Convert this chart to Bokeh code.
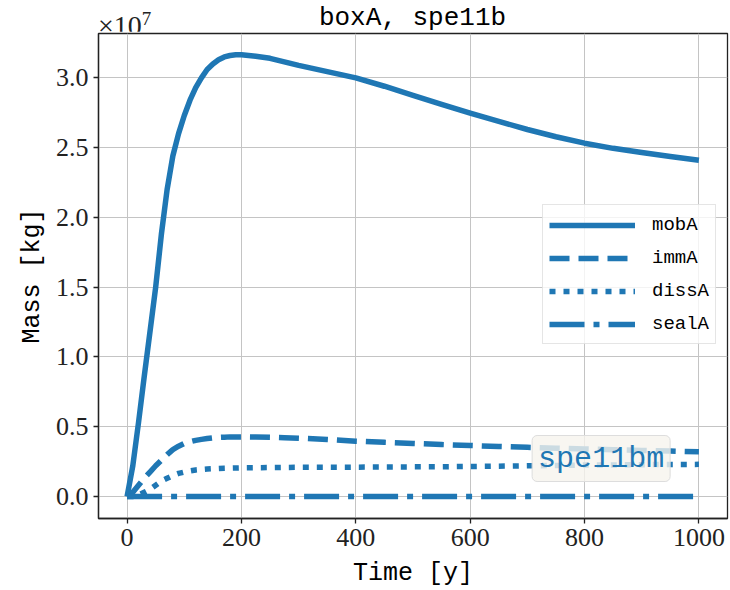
from bokeh.plotting import figure
from bokeh.layouts import column
from bokeh.models import (Legend, LegendItem, Label, Range1d, FixedTicker,
                          NumeralTickFormatter, Div)
from bokeh.embed import file_html
from bokeh.resources import INLINE

# Time [y]
time_y = [0, 10, 20, 30, 40, 50, 60, 70, 80, 90, 100, 110, 120, 130, 140, 150, 160, 170,
          180, 190, 200, 225, 250, 275, 300, 350, 400, 450, 500, 550, 600, 650, 700, 750,
          800, 850, 900, 950, 1000]
# Masses in units of 1e7 kg
mobA = [0.0, 0.22, 0.53, 0.86, 1.18, 1.5, 1.88, 2.2, 2.44, 2.6, 2.73, 2.84, 2.93, 3.0, 3.06,
        3.1, 3.13, 3.15, 3.16, 3.165, 3.165, 3.155, 3.14, 3.115, 3.09, 3.045, 3.0, 2.94,
        2.875, 2.81, 2.747, 2.688, 2.63, 2.578, 2.532, 2.495, 2.465, 2.437, 2.41]
immA = [0.0, 0.03, 0.08, 0.13, 0.175, 0.22, 0.26, 0.3, 0.336, 0.36, 0.38, 0.392, 0.402,
        0.409, 0.415, 0.42, 0.423, 0.425, 0.427, 0.427, 0.427, 0.426, 0.424, 0.421, 0.418,
        0.408, 0.396, 0.388, 0.38, 0.372, 0.365, 0.358, 0.352, 0.346, 0.34, 0.335, 0.33,
        0.325, 0.32]
dissA = [0.0, 0.0, 0.01, 0.03, 0.05, 0.08, 0.11, 0.13, 0.15, 0.165, 0.175, 0.183, 0.19,
         0.194, 0.197, 0.199, 0.2, 0.202, 0.203, 0.204, 0.205, 0.206, 0.207, 0.208, 0.209,
         0.21, 0.21, 0.211, 0.212, 0.213, 0.215, 0.217, 0.22, 0.222, 0.225, 0.226, 0.228,
         0.229, 0.23]
sealA = [0.0] * len(time_y)

x_ticks = [0, 200, 400, 600, 800, 1000]
y_ticks = [0.0, 0.5, 1.0, 1.5, 2.0, 2.5, 3.0]

BLUE = "#1f77b4"
MONO = "Liberation Mono"
SERIF = "Liberation Serif"

p = figure(width=730, height=559, output_backend="svg", toolbar_location=None,
           x_range=Range1d(-50, 1050), y_range=Range1d(-0.158, 3.318),
           min_border_left=98, min_border_right=3, min_border_top=2, min_border_bottom=71)
p.margin = 0

lw = 5.5
common = dict(line_color=BLUE, line_width=lw, line_join="round")
r_mob = p.line(time_y, mobA, **common)
r_imm = p.line(time_y, immA, line_dash="20 9", **common)
r_diss = p.line(time_y, dissA, line_dash="6 8", **common)
r_seal = p.line(time_y, sealA, line_dash="35 9 6 9", **common)

p.xaxis.ticker = FixedTicker(ticks=x_ticks)
p.yaxis.ticker = FixedTicker(ticks=y_ticks)
p.yaxis.formatter = NumeralTickFormatter(format="0.0")

for ax in (p.xaxis, p.yaxis):
    ax.major_label_text_font = SERIF
    ax.major_label_text_font_size = "26px"
    ax.major_label_text_color = "#222222"
    ax.axis_label_text_font = MONO
    ax.axis_label_text_font_size = "25px"
    ax.axis_label_text_font_style = "normal"
    ax.axis_label_text_color = "#000000"
    ax.major_tick_out = 5
    ax.major_tick_in = 0
    ax.minor_tick_line_color = None
    ax.axis_line_color = "#222222"
    ax.axis_line_width = 1.3
    ax.major_tick_line_color = "#222222"
    ax.major_tick_line_width = 1.3
    ax.major_label_standoff = 5

p.xaxis.axis_label = "Time [y]"
p.yaxis.axis_label = "Mass [kg]"
p.xaxis.axis_label_standoff = 10
p.yaxis.axis_label_standoff = 6

p.grid.grid_line_color = "#c4c4c4"
p.grid.grid_line_width = 1
p.outline_line_color = "#222222"
p.outline_line_width = 1.3
p.outline_line_alpha = 1.0

legend = Legend(items=[
    LegendItem(label="mobA", renderers=[r_mob]),
    LegendItem(label="immA", renderers=[r_imm]),
    LegendItem(label="dissA", renderers=[r_diss]),
    LegendItem(label="sealA", renderers=[r_seal]),
], location=(444, 174))
legend.label_text_font = MONO
legend.label_text_font_size = "19px"
legend.label_text_color = "#000000"
legend.glyph_width = 86
legend.glyph_height = 20
legend.label_standoff = 17
legend.label_height = 27
legend.spacing = 6
legend.padding = 6
legend.margin = 0
legend.border_line_color = "#cccccc"
legend.border_line_width = 1
legend.background_fill_alpha = 0.8
p.add_layout(legend, "center")

p.add_layout(Label(x=829, y=0.272, text="spe11bm", text_color=BLUE,
                   text_font=MONO, text_font_size="30px",
                   text_align="center", text_baseline="middle",
                   background_fill_color="#f6f4ee", background_fill_alpha=0.8,
                   border_line_color="#dddddd", padding=6, border_radius=5))

header = Div(width=730, height=31, margin=0, text=(
    '<div style="position:relative;width:730px;height:31px;margin:0;padding:0;">'
    '<span style="position:absolute;left:98px;top:9px;line-height:1;'
    "font-family:'Liberation Serif';font-size:28px;color:#222222;white-space:nowrap;\">"
    '×10<sup style="font-size:19px;line-height:1;">7</sup></span>'
    '<span style="position:absolute;left:98px;width:629px;top:5px;line-height:1;'
    "text-align:center;font-family:'Liberation Mono';font-size:26px;color:#000000;"
    'white-space:nowrap;">boxA, spe11b</span>'
    '</div>'))

layout = column(header, p, spacing=0)
layout.margin = 0
open("out.html", "w").write(file_html(layout, INLINE))
